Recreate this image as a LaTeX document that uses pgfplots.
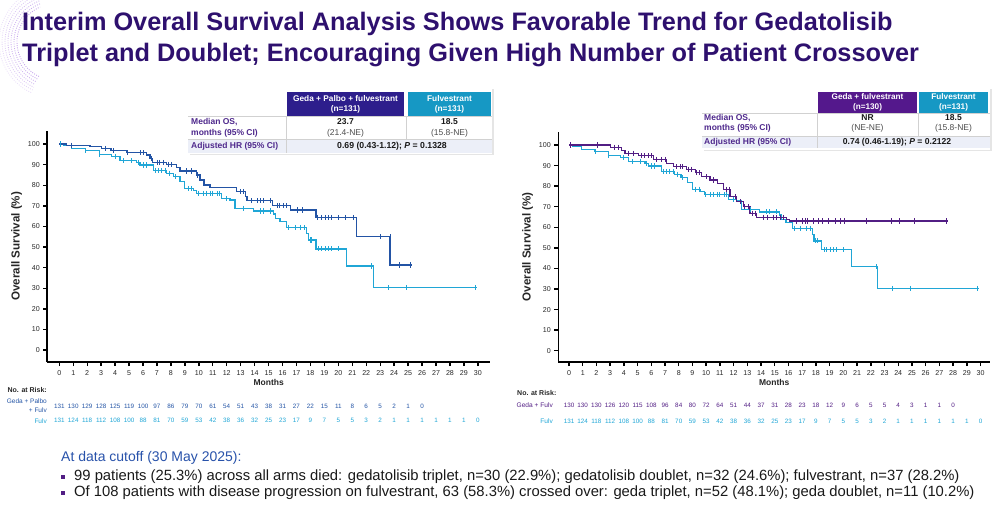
\documentclass[border=0pt]{standalone}
\usepackage{pgfplots}
\usepackage{pgfplotstable}
\pgfplotsset{compat=1.18}
\usepackage{fontspec}
\setmainfont{Liberation Sans}

\definecolor{titlepurple}{RGB}{46,16,110}
\definecolor{labpurple}{RGB}{78,40,140}
\definecolor{tripcol}{RGB}{35,84,165}
\definecolor{fulvcol}{RGB}{32,166,214}
\definecolor{doubcol}{RGB}{82,30,132}
\definecolor{triphead}{RGB}{45,30,140}
\definecolor{doubhead}{RGB}{84,24,140}
\definecolor{fulvhead}{RGB}{22,152,196}
\definecolor{rowbg}{RGB}{236,239,248}
\definecolor{cutblue}{RGB}{40,82,170}
\definecolor{decopurple}{RGB}{150,90,220}

% Kaplan-Meier curves: (month, survival %) at each event
\pgfplotstableread{
m s
0 100
0.5 99.4
2.2 98.7
3.0 97.9
3.7 96.8
4.8 95.8
6.26 94.7
6.5 93.0
6.7 91.1
7.7 90.1
8.4 88.5
8.65 86.9
9.85 85.0
10.08 82.5
10.37 80.1
10.8 79.0
12.7 76.9
13.35 74.4
13.45 72.5
15.3 70.1
16.55 68.0
18.4 64.4
21.3 55.0
23.7 41.3
25.3 41.3
}\triplet

\pgfplotstableread{
m s
0 100
0.3 99.4
0.9 97.9
1.9 96.8
2.9 95.1
3.75 93.9
4.35 91.9
5.54 91.1
5.78 89.8
6.74 87.1
7.7 85.8
8.17 84.1
8.65 81.7
9.0 78.5
9.6 77.3
9.85 76.0
11.64 73.6
12.23 72.8
12.6 68.8
13.9 67.5
15.34 66.0
15.5 63.9
15.82 62.4
16.3 59.5
17.73 56.6
17.85 53.4
18.4 49.1
20.6 40.8
22.51 30.3
29.92 30.3
}\fulv

\pgfplotstableread{
m s
0 100
3.0 98.9
3.84 97.2
4.08 96.0
5.05 94.8
6.15 93.0
7.12 91.1
7.6 89.5
8.58 88.2
9.2 86.5
9.67 84.6
10.28 83.0
10.8 81.4
11.25 78.4
11.73 74.9
12.2 72.4
12.7 70.0
13.2 66.8
13.68 64.8
15.87 63.8
16.1 63.1
27.65 63.1
}\doublet

% censored observations
\pgfplotstableread{
m s
0.9 99.4
3.3 97.9
3.9 96.8
4.9 95.8
5.8 95.8
6.0 95.8
6.6 93.0
7.0 91.1
7.2 91.1
7.5 91.1
7.8 90.1
8.05 90.1
9.1 86.9
9.5 86.9
9.9 85.0
12.95 76.9
13.2 76.9
13.8 72.5
14.2 72.5
14.4 72.5
14.6 72.5
15.1 72.5
15.6 70.1
15.8 70.1
16.1 70.1
16.3 70.1
17.1 68.0
17.4 68.0
18.5 64.4
18.8 64.4
19.05 64.4
19.3 64.4
19.5 64.4
20.0 64.4
20.5 64.4
21.1 64.4
23.0 55.0
23.7 55.0
24.4 41.3
25.2 41.3
}\tripcens

\pgfplotstableread{
m s
0.1 100
1.9 96.8
2.9 95.1
4.0 93.9
4.6 91.9
5.2 91.9
5.66 91.1
6.0 89.8
6.26 89.8
6.86 87.1
7.1 87.1
7.3 87.1
7.6 87.1
7.9 85.8
8.3 84.1
9.25 78.5
9.5 78.5
9.96 76.0
10.3 76.0
10.56 76.0
10.8 76.0
11.0 76.0
11.3 76.0
11.5 76.0
12.0 73.6
13.2 68.8
14.4 67.5
14.6 67.5
15.1 67.5
16.4 59.5
16.9 59.5
17.3 59.5
17.6 59.5
18.0 53.4
18.1 53.4
18.6 49.1
18.8 49.1
19.05 49.1
19.3 49.1
19.5 49.1
20.0 49.1
22.4 40.8
23.6 30.3
24.9 30.3
29.8 30.3
}\fulvcens

\pgfplotstableread{
m s
0.1 100
2.1 100
3.3 98.9
3.6 98.9
4.3 96.0
4.7 96.0
5.3 94.8
5.5 94.8
5.8 94.8
6.0 94.8
6.4 93.0
6.75 93.0
7.0 93.0
7.85 89.5
8.1 89.5
8.3 89.5
8.7 88.2
8.9 88.2
9.3 86.5
9.5 86.5
10.0 84.6
10.5 83.0
11.5 78.4
11.7 78.4
12.1 74.9
12.5 72.4
12.8 70.0
13.1 70.0
13.4 66.8
13.56 66.8
14.2 64.8
14.5 64.8
14.9 64.8
15.1 64.8
15.4 64.8
15.6 64.8
16.6 63.1
17.0 63.1
17.2 63.1
17.4 63.1
17.8 63.1
18.2 63.1
18.5 63.1
18.9 63.1
19.4 63.1
19.8 63.1
20.1 63.1
21.7 63.1
23.5 63.1
24.1 63.1
25.2 63.1
27.55 63.1
}\doubcens

% numbers at risk by month
\pgfplotstableread{
m n
0 131
1 130
2 129
3 128
4 125
5 119
6 100
7 97
8 86
9 79
10 70
11 61
12 54
13 51
14 43
15 38
16 31
17 27
18 22
19 15
20 11
21 8
22 6
23 5
24 2
25 1
26 0
}\tripRisk

\pgfplotstableread{
m n
0 131
1 124
2 118
3 112
4 108
5 100
6 88
7 81
8 70
9 59
10 53
11 42
12 38
13 36
14 32
15 25
16 23
17 17
18 9
19 7
20 5
21 5
22 3
23 2
24 1
25 1
26 1
27 1
28 1
29 1
30 0
}\fulvRisk

\pgfplotstableread{
m n
0 130
1 130
2 130
3 126
4 120
5 115
6 108
7 96
8 84
9 80
10 72
11 64
12 51
13 44
14 37
15 31
16 28
17 23
18 18
19 12
20 9
21 6
22 5
23 5
24 4
25 3
26 1
27 1
28 0
}\doubRisk

\pgfplotsset{
  kmaxis/.style={
    scale only axis, clip=false,
    axis lines=left, axis line style={-, line width=1.6pt, black},
    xtick={0,1,...,30}, ytick={0,10,...,100},
    tick align=outside, major tick length=4pt,
    tick style={line width=1.4pt, black},
    tick label style={font=\fontsize{7.1}{8}\selectfont, text=black!85},
    /pgf/number format/assume math mode=true,
    xticklabel style={yshift=-1pt},
    ylabel={Overall Survival (\%)},
    ylabel style={font=\fontsize{11.6}{12}\selectfont\bfseries, text=black!85, yshift=-1pt},
    xlabel={Months},
    xlabel style={font=\fontsize{8.5}{9}\selectfont\bfseries, text=black!85, yshift=3pt},
  },
  kmline/.style={const plot, line width=1.25pt, mark=none},
  cens/.style={only marks, mark=|, mark size=2.6pt, mark options={line width=0.9pt}},
  risk/.style={draw=none, mark=none, nodes near coords, point meta=explicit symbolic,
    every node near coord/.append style={anchor=center, font=\fontsize{6.3}{7}\selectfont}},
}

\begin{document}
\begin{tikzpicture}[x=1pt,y=1pt]
\useasboundingbox (0,0) rectangle (1000,512);

% corner ornament: faint dotted arcs
\begin{scope}
  \clip (0,512-95) rectangle (40,512);
  \foreach \r/\o in {38/0.55,41/0.5,44/0.45,47/0.4,50/0.32,53/0.25,56/0.18} {
    \draw[decopurple, opacity=\o, line width=0.9pt, dash pattern=on 0.9pt off 1.4pt]
      (55,512-42) ++(105:\r) arc[start angle=105, end angle=245, radius=\r];
  }
\end{scope}

% title
\node[anchor=west, text=titlepurple, font=\fontsize{25.3}{31}\selectfont\bfseries, align=left, inner sep=0pt]
  at (22,512-39.5) {Interim Overall Survival Analysis Shows Favorable Trend for Gedatolisib\\Triplet and Doublet; Encouraging Given High Number of Patient Crossover};

% ---------- left panel: triplet vs fulvestrant ----------
\begin{axis}[kmaxis, at={(47.3pt,150pt)}, anchor=south west,
  width=442.7pt, height=231.3pt,
  xmin=-0.86, xmax=30.87, ymin=-5.83, ymax=106.5]
  \addplot[kmline, fulvcol] table[x=m, y=s] {\fulv};
  \addplot[kmline, tripcol] table[x=m, y=s] {\triplet};
  \addplot[cens, fulvcol] table[x=m, y=s] {\fulvcens};
  \addplot[cens, tripcol] table[x=m, y=s] {\tripcens};
  \addplot[risk, every node near coord/.append style={text=tripcol}]
    table[x=m, y expr=-27.2, meta=n] {\tripRisk};
  \addplot[risk, every node near coord/.append style={text=fulvcol}]
    table[x=m, y expr=-34.3, meta=n] {\fulvRisk};
\end{axis}
\node[anchor=east, font=\fontsize{7}{8}\selectfont\bfseries, text=black!85, inner sep=0pt] at (47,512-390) {No. at Risk:};
\node[anchor=east, align=right, font=\fontsize{6.5}{8.5}\selectfont, text=tripcol, inner sep=0pt] at (47,512-405.5) {Geda + Palbo\\+ Fulv};
\node[anchor=east, font=\fontsize{6.5}{8}\selectfont, text=fulvcol, inner sep=0pt] at (47,512-420.7) {Fulv};

% ---------- right panel: doublet vs fulvestrant ----------
\begin{axis}[kmaxis, at={(558.3pt,150pt)}, anchor=south west,
  width=431.7pt, height=230.3pt,
  xmin=-0.78, xmax=30.69, ymin=-5.5, ymax=106.5]
  \addplot[kmline, fulvcol] table[x=m, y=s] {\fulv};
  \addplot[kmline, doubcol] table[x=m, y=s] {\doublet};
  \addplot[cens, fulvcol] table[x=m, y=s] {\fulvcens};
  \addplot[cens, doubcol] table[x=m, y=s] {\doubcens};
  \addplot[risk, every node near coord/.append style={text=doubcol}]
    table[x=m, y expr=-26.4, meta=n] {\doubRisk};
  \addplot[risk, every node near coord/.append style={text=fulvcol}]
    table[x=m, y expr=-34.2, meta=n] {\fulvRisk};
\end{axis}
\node[anchor=west, font=\fontsize{7}{8}\selectfont\bfseries, text=black!85, inner sep=0pt] at (517,512-392.5) {No. at Risk:};
\node[anchor=east, font=\fontsize{6.6}{8}\selectfont, text=doubcol, inner sep=0pt] at (553,512-405) {Geda + Fulv};
\node[anchor=east, font=\fontsize{6.6}{8}\selectfont, text=fulvcol, inner sep=0pt] at (553,512-421) {Fulv};

% ---------- summary table, left ----------
\fill[black!10] (189.5,512-155.5) rectangle (493.5,512-89.5);
\fill[white] (188,512-154) rectangle (492,512-88);
\fill[triphead] (287,512-116) rectangle (404,512-92);
\fill[fulvhead] (408,512-116) rectangle (491,512-92);
\fill[rowbg] (188,512-153) rectangle (492,512-139);
\draw[black!18, line width=0.5pt] (188,512-116.5) -- (492,512-116.5);
\draw[black!18, line width=0.5pt] (188,512-139) -- (492,512-139);
\draw[black!18, line width=0.5pt] (286,512-117) -- (286,512-153);
\draw[black!18, line width=0.5pt] (406,512-117) -- (406,512-139);
\node[text=white, font=\fontsize{8.3}{10}\selectfont\bfseries, align=center, inner sep=0pt] at (345.5,512-104) {Geda + Palbo + fulvestrant\\(n=131)};
\node[text=white, font=\fontsize{8.3}{10}\selectfont\bfseries, align=center, inner sep=0pt] at (449.5,512-104) {Fulvestrant\\(n=131)};
\node[anchor=west, text=labpurple, font=\fontsize{8.5}{11}\selectfont\bfseries, align=left, inner sep=0pt] at (191,512-127.5) {Median OS,\\months (95\% CI)};
\node[text=black!90, font=\fontsize{8.5}{11}\selectfont, align=center, inner sep=0pt] at (345.5,512-127.5) {\textbf{23.7}\\\textcolor{black!70}{(21.4-NE)}};
\node[text=black!90, font=\fontsize{8.5}{11}\selectfont, align=center, inner sep=0pt] at (449.5,512-127.5) {\textbf{18.5}\\\textcolor{black!70}{(15.8-NE)}};
\node[anchor=west, text=labpurple, font=\fontsize{8.5}{9}\selectfont\bfseries, inner sep=0pt] at (191,512-146.5) {Adjusted HR (95\% CI)};
\node[text=black!90, font=\fontsize{8.7}{9}\selectfont\bfseries, inner sep=0pt] at (392,512-146.5) {0.69 (0.43-1.12); \textit{P} = 0.1328};

% ---------- summary table, right ----------
\fill[black!10] (703.5,512-151.5) rectangle (991.5,512-89.5);
\fill[white] (702,512-150) rectangle (990,512-88);
\fill[doubhead] (818,512-113) rectangle (917,512-92);
\fill[fulvhead] (919,512-113) rectangle (988,512-92);
\fill[rowbg] (702,512-148) rectangle (990,512-136);
\draw[black!18, line width=0.5pt] (702,512-113.5) -- (990,512-113.5);
\draw[black!18, line width=0.5pt] (702,512-136) -- (990,512-136);
\draw[black!18, line width=0.5pt] (817,512-114) -- (817,512-148);
\draw[black!18, line width=0.5pt] (918,512-114) -- (918,512-136);
\node[text=white, font=\fontsize{8.2}{9.8}\selectfont\bfseries, align=center, inner sep=0pt] at (867.5,512-102.5) {Geda + fulvestrant\\(n=130)};
\node[text=white, font=\fontsize{8.2}{9.8}\selectfont\bfseries, align=center, inner sep=0pt] at (953.5,512-102.5) {Fulvestrant\\(n=131)};
\node[anchor=west, text=labpurple, font=\fontsize{8.5}{9.6}\selectfont\bfseries, align=left, inner sep=0pt] at (704,512-123.5) {Median OS,\\months (95\% CI)};
\node[text=black!90, font=\fontsize{8.5}{9.6}\selectfont, align=center, inner sep=0pt] at (867.5,512-123.5) {\textbf{NR}\\\textcolor{black!70}{(NE-NE)}};
\node[text=black!90, font=\fontsize{8.5}{9.6}\selectfont, align=center, inner sep=0pt] at (953.5,512-123.5) {\textbf{18.5}\\\textcolor{black!70}{(15.8-NE)}};
\node[anchor=west, text=labpurple, font=\fontsize{8.5}{9}\selectfont\bfseries, inner sep=0pt] at (704,512-142) {Adjusted HR (95\% CI)};
\node[text=black!90, font=\fontsize{8.6}{9}\selectfont\bfseries, inner sep=0pt] at (897,512-142) {0.74 (0.46-1.19); \textit{P} = 0.2122};

% ---------- data cutoff notes ----------
\node[anchor=west, text=cutblue, font=\fontsize{14}{16}\selectfont, inner sep=0pt] at (61,512-458) {At data cutoff (30 May 2025):};
\fill[doubcol] (61,512-478.5) rectangle (65,512-474.5);
\node[anchor=west, text=black!90, font=\fontsize{14.8}{16}\selectfont, inner sep=0pt] at (74,512-476.5) {99 patients (25.3\%) across all arms died: gedatolisib triplet, n=30 (22.9\%); gedatolisib doublet, n=32 (24.6\%); fulvestrant, n=37 (28.2\%)};
\fill[doubcol] (61,512-494.5) rectangle (65,512-490.5);
\node[anchor=west, text=black!90, font=\fontsize{14.8}{16}\selectfont, inner sep=0pt] at (74,512-492.5) {Of 108 patients with disease progression on fulvestrant, 63 (58.3\%) crossed over: geda triplet, n=52 (48.1\%); geda doublet, n=11 (10.2\%)};
\end{tikzpicture}
\end{document}
